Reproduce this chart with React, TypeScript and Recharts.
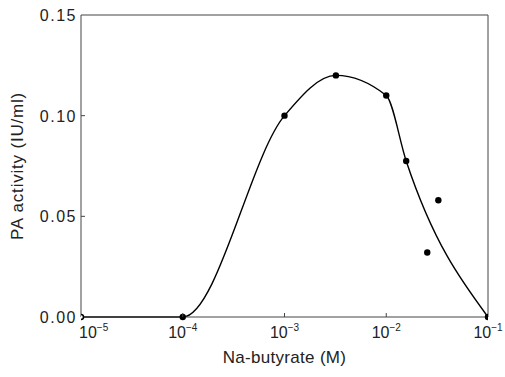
import React from "react";
import {
  ComposedChart,
  Line,
  Scatter,
  XAxis,
  YAxis,
  ReferenceLine,
} from "recharts";

// Na-butyrate concentration (M) and PA activity (IU/ml)
const curveX = [1e-5, 1e-4, 1e-3, 3.2e-3, 1e-2, 1.57e-2, 1e-1];
const curveY = [0, 0, 0.1, 0.12, 0.11, 0.0775, 0];

const pointX = [1e-5, 1e-4, 1e-3, 3.2e-3, 1e-2, 1.57e-2, 2.53e-2, 3.25e-2, 1e-1];
const pointY = [0, 0, 0.1, 0.12, 0.11, 0.0775, 0.032, 0.058, 0];

const xTicks = [1e-5, 1e-4, 1e-3, 1e-2, 1e-1];
const xExponents = ["−5", "−4", "−3", "−2", "−1"];
const yTicks = [0, 0.05, 0.1, 0.15];

const FONT = "'Liberation Sans', Arial, sans-serif";
const INK = "#222";
const FRAME = "#444";

const curveData = curveX.map((x, i) => ({ x, y: curveY[i] }));
const pointData = pointX.map((x, i) => ({ x, y: pointY[i] }));

// tickSize 1 + tickMargin 5 => label y sits 6px below the axis line
const XTick = ({ x, y, payload, index }: any) => {
  const axisY = y - 6;
  const first = index === 0;
  const last = index === xTicks.length - 1;
  return (
    <g>
      {!first && !last && (
        <line x1={x} x2={x} y1={axisY} y2={axisY - 4} stroke={FRAME} />
      )}
      <text
        x={first ? x - 2 : x}
        y={axisY + 21}
        textAnchor={first ? "start" : "middle"}
        fontFamily={FONT}
        fontSize={16}
        fill={INK}
      >
        <tspan>10</tspan>
        <tspan dy={-7} fontSize={10}>
          {xExponents[xTicks.indexOf(payload.value)]}
        </tspan>
      </text>
    </g>
  );
};

// tickSize 1 + tickMargin 3 => label x sits 4px left of the axis line
const YTick = ({ x, y, payload, index }: any) => {
  const axisX = x + 4;
  const inner = index > 0 && index < yTicks.length - 1;
  return (
    <g>
      {inner && <line x1={axisX} x2={axisX + 4} y1={y} y2={y} stroke={FRAME} />}
      <text
        x={x}
        y={y + 6}
        textAnchor="end"
        fontFamily={FONT}
        fontSize={16}
        letterSpacing={1.5}
        fill={INK}
      >
        {payload.value.toFixed(2)}
      </text>
    </g>
  );
};

const Dot = ({ cx, cy, payload }: any) => {
  if (payload.x === 1e-5) {
    return <circle cx={cx} cy={cy} r={2.5} fill="#fff" stroke="#000" strokeWidth={1.5} />;
  }
  return <circle cx={cx} cy={cy} r={3.2} fill="#000" />;
};

export default function App() {
  return (
    <div style={{ position: "absolute", left: 0, top: 0, background: "#fff" }}>
      <ComposedChart
        width={505}
        height={377}
        margin={{ top: 15, right: 17, left: 0, bottom: 0 }}
      >
        <XAxis
          dataKey="x"
          type="number"
          scale="log"
          domain={[1e-5, 1e-1]}
          ticks={xTicks}
          allowDataOverflow
          tickSize={1}
          tickMargin={5}
          tickLine={false}
          tick={<XTick />}
          height={60}
          stroke={FRAME}
          label={{
            value: "Na-butyrate (M)",
            position: "insideBottom",
            offset: 14,
            style: { fontFamily: FONT, fontSize: 17, letterSpacing: 0.3, fill: INK },
          }}
        />
        <YAxis
          dataKey="y"
          type="number"
          domain={[0, 0.15]}
          ticks={yTicks}
          tickSize={1}
          tickMargin={3}
          tickLine={false}
          tick={<YTick />}
          width={81}
          stroke={FRAME}
          label={{
            value: "PA activity (IU/ml)",
            angle: -90,
            position: "insideLeft",
            offset: 17,
            style: {
              fontFamily: FONT,
              fontSize: 17,
              letterSpacing: 0.8,
              fill: INK,
              textAnchor: "middle",
            },
          }}
        />
        <ReferenceLine y={0.15} stroke={FRAME} />
        <ReferenceLine x={0.1} stroke={FRAME} />
        <Line
          data={curveData}
          dataKey="y"
          type="monotone"
          stroke="#000"
          strokeWidth={1.4}
          dot={false}
          isAnimationActive={false}
        />
        <Scatter
          data={pointData}
          dataKey="y"
          shape={<Dot />}
          isAnimationActive={false}
        />
      </ComposedChart>
    </div>
  );
}
